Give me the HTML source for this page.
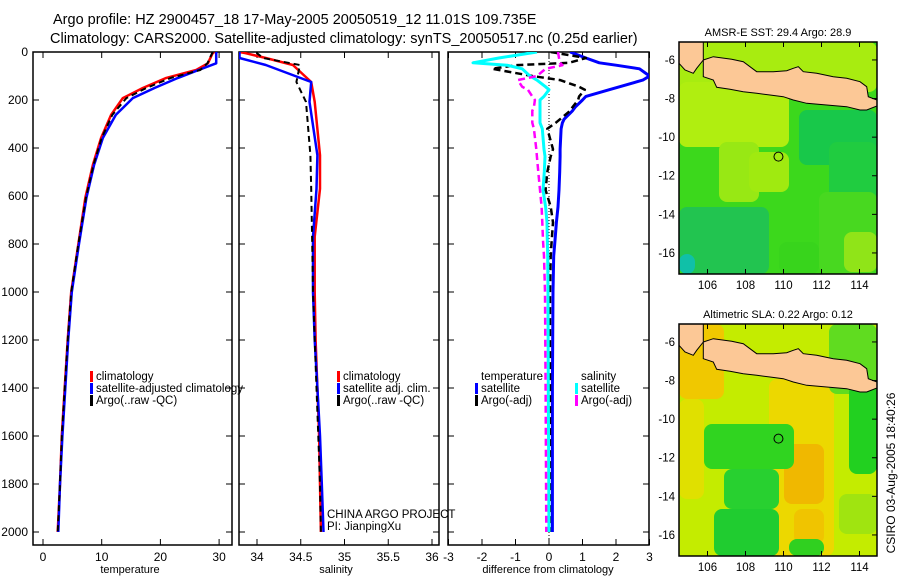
<!DOCTYPE html>
<html><head><meta charset="utf-8"><style>
html,body{margin:0;padding:0;background:#fff;}
svg{display:block;font-family:"Liberation Sans",sans-serif;}
text{fill:#000;}
</style></head><body>
<svg id="fig" width="900" height="580" viewBox="0 0 900 580" xmlns="http://www.w3.org/2000/svg">
<defs>
<clipPath id="c1"><rect x="33" y="52" width="199" height="493"/></clipPath>
<clipPath id="c2"><rect x="239" y="52" width="200" height="493"/></clipPath>
<clipPath id="c3"><rect x="448" y="52" width="201" height="493"/></clipPath>
<clipPath id="cm"><rect x="0" y="0" width="198" height="232"/></clipPath>
</defs>
<text x="53" y="24" font-size="14.5">Argo profile: HZ 2900457_18 17-May-2005 20050519_12 11.01S 109.735E</text>
<text x="50" y="43" font-size="14.5">Climatology: CARS2000. Satellite-adjusted climatology: synTS_20050517.nc (0.25d earlier)</text>
<g id="plots"></g>
<g id="maps"></g>
<text transform="translate(895,473) rotate(-90)" text-anchor="middle" font-size="12">CSIRO 03-Aug-2005 18:40:26</text>
</svg>
<script>
// ---- data ----
const tDepth = [0,5,47,75,108,150,192,262,358,470,608,804,1000,1200,1400,1600,1800,2000];
const tClim  = [29.2,28.9,28.1,26.1,21.0,17.0,13.6,11.6,9.9,8.5,7.2,6.0,4.8,4.2,3.7,3.2,2.9,2.5];
const tSat   = [29.6,29.5,29.5,26.5,23.0,19.0,15.3,12.4,10.2,8.7,7.4,6.1,4.9,4.3,3.8,3.3,2.9,2.6];
const tArgo  = [29.0,28.8,28.0,26.8,21.8,17.6,14.2,11.8,10.0,8.6,7.3,6.0,4.8,4.2,3.7,3.2,2.9,2.5];
const sDepth = [0,5,25,54,125,208,430,570,770,1000,1200,1400,1600,1800,2000];
const sClim  = [33.8,33.87,34.1,34.41,34.62,34.66,34.72,34.72,34.66,34.66,34.67,34.69,34.71,34.72,34.73];
const sSat   = [33.8,33.8,33.8,34.1,34.62,34.6,34.69,34.68,34.64,34.64,34.66,34.69,34.72,34.74,34.76];
const sArgo  = [34.0,34.0,34.07,34.49,34.45,34.56,34.61,34.62,34.63,34.64,34.66,34.68,34.7,34.72,34.73];
const dDepth = [0,25,45,55,70,100,117,145,157,185,200,230,245,280,295,320,405,435,500,575,645,710,785,850,1000,1400,2000];
const dTSat  = [0.63,1.1,1.5,2.0,2.7,3.0,2.8,2.1,1.8,1.1,1.0,0.78,0.7,0.45,0.4,0.36,0.33,0.33,0.32,0.3,0.27,0.22,0.18,0.14,0.12,0.1,0.1];
const dTArgo = [0.05,1.1,0.6,-1.0,-1.7,-0.5,0.33,0.9,1.07,0.9,0.87,0.7,0.63,0.33,0.2,-0.05,0.12,0.05,-0.05,-0.1,0.05,0.12,0.08,0.05,0.03,0.03,0.02];
const dSSat  = [-0.36,-1.5,-2.27,-1.25,-0.8,-0.57,-0.36,-0.1,0,-0.15,-0.27,-0.27,-0.27,-0.27,-0.27,-0.2,-0.15,-0.12,-0.14,-0.18,-0.1,-0.06,-0.05,-0.04,-0.03,-0.02,0.0];
const dSArgo = [0.27,0.3,0.33,0.4,-0.1,-0.36,-0.93,-0.8,-0.63,-0.5,-0.42,-0.45,-0.5,-0.5,-0.5,-0.45,-0.38,-0.36,-0.32,-0.27,-0.22,-0.2,-0.18,-0.15,-0.12,-0.1,-0.08];
const depthTicks = [0,200,400,600,800,1000,1200,1400,1600,1800,2000];
const tempTicks = [0,10,20,30];
const salTicks = [34,34.5,35,35.5,36];
const salTickLabels = ["34","34.5","35","35.5","36"];
const diffTicks = [-3,-2,-1,0,1,2,3];
const lonTicks = [106,108,110,112,114];
const latTicks = [-6,-8,-10,-12,-14,-16];

const NS='http://www.w3.org/2000/svg';
function mk(tag,attrs,parent){const e=document.createElementNS(NS,tag);for(const k in attrs)e.setAttribute(k,attrs[k]);parent.appendChild(e);return e;}
const plots=document.getElementById('plots');
const yD = d => 52 + d*0.24;
const xT = t => 43 + t*5.87;
const xS = s => 257 + (s-34)*87.5;
const xDf = v => 549 + v*33.5;

function panel(name,x0,x1,clip,xs,ticks,labels,title,tx){
  const g=mk('g',{},plots);
  
  
  const r=mk('rect',{x:x0,y:52,width:x1-x0,height:493,fill:'none',stroke:'#000','stroke-width':1.5},g);
  
  
  ticks.forEach((t,i)=>{
    const x=xs(t);
    mk('line',{x1:x,y1:545,x2:x,y2:539,stroke:'#000'},g);
    mk('line',{x1:x,y1:52,x2:x,y2:58,stroke:'#000'},g);
    const lb=mk('text',{x:x,y:561,'font-size':12,'text-anchor':'middle'},g);
    lb.textContent=labels[i];
    
    
  });
  depthTicks.forEach(d=>{
    mk('line',{x1:x0,y1:yD(d),x2:x0+6,y2:yD(d),stroke:'#000'},g);
    mk('line',{x1:x1,y1:yD(d),x2:x1-6,y2:yD(d),stroke:'#000'},g);
  });
  const at=mk('text',{x:tx,y:573,'font-size':11,'text-anchor':'middle'},g);
  at.textContent=title;
  
  
  return g;
}
function line(g,depths,vals,xs,color,w,dash,clip,name){
  const pts=depths.map((d,i)=>xs(vals[i]).toFixed(1)+','+yD(d).toFixed(1)).join(' ');
  const p=mk('polyline',{points:pts,fill:'none',stroke:color,'stroke-width':w,'clip-path':'url(#'+clip+')','stroke-linejoin':'round'},g);
  if(dash)p.setAttribute('stroke-dasharray',dash);
  
  
}
function legend(g,x,y,items){
  items.forEach((it,i)=>{
    const yy=y+i*12;
    if(it.c){const m=mk('rect',{x:x-6,y:yy-9,width:3,height:11,fill:it.c},g);
      
      }
    const t=mk('text',{x:x,y:yy,'font-size':11.5},g);
    t.textContent=it.t;
    
    
  });
}
depthTicks.forEach(d=>{
  const t=mk('text',{x:28,y:yD(d)+4,'font-size':12,'text-anchor':'end'},plots);
  t.textContent=String(d);
  
  
});
const g1=panel('temperature-panel',33,232,'c1',xT,tempTicks,tempTicks.map(String),'temperature',130);
line(g1,tDepth,tClim,xT,'#f00',2.5,null,'c1','climatology-temperature');
line(g1,tDepth,tSat,xT,'#00f',2.5,null,'c1','satellite-temperature');
line(g1,tDepth,tArgo,xT,'#000',2,'6,4','c1','argo-temperature');
legend(g1,96,380,[{c:'#f00',t:'climatology'},{c:'#00f',t:'satellite-adjusted climatology'},{c:'#000',t:'Argo(..raw -QC)'}]);
const g2=panel('salinity-panel',239,439,'c2',xS,salTicks,salTickLabels,'salinity',336);
line(g2,sDepth,sClim,xS,'#f00',2.5,null,'c2','climatology-salinity');
line(g2,sDepth,sSat,xS,'#00f',2.5,null,'c2','satellite-salinity');
line(g2,sDepth,sArgo,xS,'#000',2,'6,4','c2','argo-salinity');
legend(g2,343,380,[{c:'#f00',t:'climatology'},{c:'#00f',t:'satellite adj. clim.'},{c:'#000',t:'Argo(..raw -QC)'}]);
legend(g2,327,518,[{t:'CHINA ARGO PROJECT'},{t:'PI: JianpingXu'}]);
const g3=panel('difference-panel',448,649,'c3',xDf,diffTicks,diffTicks.map(String),'difference from climatology',548);
const z=mk('line',{x1:xDf(0),y1:52,x2:xDf(0),y2:545,stroke:'#000','stroke-dasharray':'1,2'},g3);


line(g3,dDepth,dTSat,xDf,'#00f',3,null,'c3','temperature-satellite-diff');
line(g3,dDepth,dTArgo,xDf,'#000',2.5,'7,4','c3','temperature-argo-diff');
line(g3,dDepth,dSSat,xDf,'#0ff',3,null,'c3','salinity-satellite-diff');
line(g3,dDepth,dSArgo,xDf,'#f0f',2.5,'7,4','c3','salinity-argo-diff');
legend(g3,481,380,[{t:'temperature'},{c:'#00f',t:'satellite'},{c:'#000',t:'Argo(-adj)'}]);
legend(g3,581,380,[{t:'salinity'},{c:'#0ff',t:'satellite'},{c:'#f0f',t:'Argo(-adj)'}]);

// ---- maps ----
const maps=document.getElementById('maps');
const java="24.3,18 34.3,14.7 52.7,17.3 64.3,19.7 77.7,29.7 94.3,29.7 107.7,28.7 114.3,26.3 119.3,24.7 124.3,29.7 137.7,31.3 154.3,34.7 167.7,36.3 181,39.7 187.7,44.7 189.3,54.7 198,58 198,64 187.7,68 181,68 167.7,64.7 147.7,63 127.7,61.3 114.3,58 104.3,54.7 91,53 77.7,51.3 64.3,49.7 51,47.3 37.7,45.3 34.3,38 24.3,34.7";
const sumatra="0,0 24.3,0 24.3,18 17.7,26.3 14.3,31.3 6,28 0,21.3";
const map1Blobs=[[0,0,198,232,'#3cd81c'],[0,0,198,50,'#a8ec10'],[0,40,110,65,'#b0ee10'],[40,100,40,60,'#98e814'],[70,110,40,40,'#a0ea10'],[120,68,78,55,'#18c84a'],[150,100,48,60,'#20cc40'],[0,165,90,67,'#22c450'],[0,212,16,20,'#10c0a8'],[140,150,58,82,'#48d820'],[165,190,33,40,'#90e418'],[100,200,40,32,'#38d41c']];
const map2Blobs=[[0,0,198,232,'#c4ec00'],[0,0,45,75,'#f0c800'],[0,75,25,100,'#e0e000'],[90,55,65,177,'#ecd800'],[105,120,40,60,'#f0b800'],[115,185,30,35,'#f0c400'],[25,100,90,45,'#30d420'],[45,145,55,40,'#28d030'],[35,185,65,47,'#20cc30'],[150,0,48,70,'#60dc20'],[170,60,28,90,'#22d020'],[110,215,35,17,'#30d020'],[160,170,38,40,'#a0e410']];
function drawMap(name,ox,oy,blobs,title){
  const g=mk('g',{transform:'translate('+ox+','+oy+')'},maps);
  
  
  const f=mk('g',{'clip-path':'url(#cm)'},g);
  blobs.forEach((b,i)=>{const r=mk('rect',{x:b[0],y:b[1],width:b[2],height:b[3],fill:b[4],rx:i?8:0},f);
    
    });
  const j=mk('polygon',{points:java,fill:'#fcc896',stroke:'#000','stroke-width':1},f);
  
  
  const s=mk('polygon',{points:sumatra,fill:'#fcc896',stroke:'#000','stroke-width':1},f);
  
  
  const c=mk('circle',{cx:(109.735-104.5)*19,cy:(11.01-5.07)*19.3,r:4.5,fill:'none',stroke:'#000','stroke-width':1},g);
  
  
  const fr=mk('rect',{x:0,y:0,width:198,height:232,fill:'none',stroke:'#000','stroke-width':1.5},g);
  
  
  lonTicks.forEach(l=>{const x=(l-104.5)*19;
    mk('line',{x1:x,y1:0,x2:x,y2:5,stroke:'#000'},g);
    mk('line',{x1:x,y1:232,x2:x,y2:227,stroke:'#000'},g);
    const t=mk('text',{x:x,y:247,'font-size':11.5,'text-anchor':'middle'},g);
    t.textContent=String(l);
    
    });
  latTicks.forEach(l=>{const y=(-5.07-l)*19.3;
    mk('line',{x1:198,y1:y,x2:193,y2:y,stroke:'#000'},g);
    const t=mk('text',{x:-4,y:y+4,'font-size':11.5,'text-anchor':'end'},g);
    t.textContent=String(l);
    
    });
  const tt=mk('text',{x:99,y:-6,'font-size':11,'text-anchor':'middle'},g);
  tt.textContent=title;
  
  
}
drawMap('sst-map',679,42,map1Blobs,'AMSR-E SST: 29.4 Argo: 28.9');
drawMap('sla-map',679,324,map2Blobs,'Altimetric SLA: 0.22 Argo: 0.12');
</script>
</body></html>
